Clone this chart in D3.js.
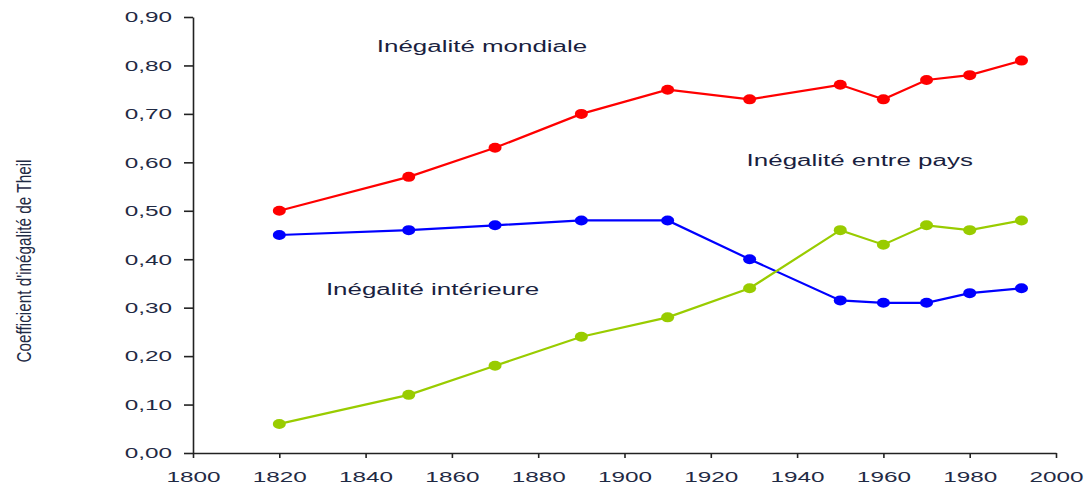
<!DOCTYPE html>
<html>
<head>
<meta charset="utf-8">
<script src="https://cdn.jsdelivr.net/npm/d3@7"></script>
<style>
  body { margin: 0; background: #fff; }
  text { font-family: "Liberation Sans", Arial, sans-serif; }
</style>
</head>
<body>
<svg id="chart"></svg>
<script>
// Data
const years = [1820, 1850, 1870, 1890, 1910, 1929, 1950, 1960, 1970, 1980, 1992];
const mondiale = [0.50, 0.57, 0.63, 0.70, 0.75, 0.73, 0.76, 0.73, 0.77, 0.78, 0.81];
const interieure = [0.45, 0.46, 0.47, 0.48, 0.48, 0.40, 0.315, 0.31, 0.31, 0.33, 0.34];
const entrePays = [0.06, 0.12, 0.18, 0.24, 0.28, 0.34, 0.46, 0.43, 0.47, 0.46, 0.48];
const xTicks = [1800, 1820, 1840, 1860, 1880, 1900, 1920, 1940, 1960, 1980, 2000];
const yTicks = [0, 0.1, 0.2, 0.3, 0.4, 0.5, 0.6, 0.7, 0.8, 0.9];

const series = [
  { name: 'Inégalité mondiale', values: mondiale, color: '#ff0000', label: [1842.6, 0.84] },
  { name: 'Inégalité intérieure', values: interieure, color: '#0000ff', label: [1830.8, 0.338] },
  { name: 'Inégalité entre pays', values: entrePays, color: '#99cc00', label: [1928.3, 0.605] }
];

const width = 1088;
const height = 489;
const stretch = 1.62; // the picture is widened horizontally

const svg = d3.select('#chart')
  .attr('width', width)
  .attr('height', height);

// widen a text horizontally, keeping it as text
function widen(sel, k) {
  sel.each(function () {
    const w = this.getComputedTextLength();
    d3.select(this).attr('textLength', w * k).attr('lengthAdjust', 'spacingAndGlyphs');
  });
}

// Scales
const xScale = d3.scaleLinear().domain([1800, 2000]).range([193, 1056]);
const yScale = d3.scaleLinear().domain([0, 0.9]).range([453, 17]);

// Axes
const xAxis = d3.axisBottom(xScale).tickValues(xTicks).tickFormat(d3.format('d')).tickSizeOuter(0).tickSizeInner(5);
const yAxis = d3.axisLeft(yScale).tickValues(yTicks).tickFormat(d => d3.format('.2f')(d).replace('.', ',')).tickSizeOuter(0).tickSizeInner(9);

const gx = svg.append('g')
  .attr('transform', `translate(0, ${yScale(0)})`)
  .call(xAxis);

const gy = svg.append('g')
  .attr('transform', `translate(${xScale(1800)}, 0)`)
  .call(yAxis);

[gx, gy].forEach(g => {
  g.select('.domain').attr('stroke', '#222').attr('stroke-width', 1.6);
  g.selectAll('.tick line').attr('stroke', '#222').attr('stroke-width', 1.6);
  g.selectAll('.tick text')
    .attr('fill', '#1f2a44')
    .style('font-size', '15px')
    .style('font-family', '"Liberation Sans", Arial, sans-serif');
});
gx.selectAll('.tick text').attr('y', 18);
gy.selectAll('.tick text').attr('x', -21);
widen(gx.selectAll('.tick text'), stretch);
widen(gy.selectAll('.tick text'), stretch);

// Y axis title
svg.append('text')
  .attr('transform', 'translate(31, 261) rotate(-90)')
  .attr('text-anchor', 'middle')
  .attr('fill', '#1f2a44')
  .attr('textLength', 203)
  .attr('lengthAdjust', 'spacingAndGlyphs')
  .style('font-family', '"Liberation Sans Narrow", "Arial Narrow", "Liberation Sans", sans-serif')
  .style('font-size', '21px')
  .text("Coefficient d'inégalité de Theil");

// Lines and dots
const line = d3.line()
  .x((d, i) => xScale(years[i]))
  .y(d => yScale(d));

series.forEach(s => {
  svg.append('path')
    .datum(s.values)
    .attr('fill', 'none')
    .attr('stroke', s.color)
    .attr('stroke-width', 2.2)
    .attr('d', line);

  svg.selectAll(null)
    .data(s.values)
    .enter()
    .append('ellipse')
    .attr('cx', (d, i) => xScale(years[i]))
    .attr('cy', d => yScale(d))
    .attr('rx', 6.5)
    .attr('ry', 5)
    .attr('fill', s.color);

  const t = svg.append('text')
    .attr('x', xScale(s.label[0]))
    .attr('y', yScale(s.label[1]))
    .attr('dy', '0.35em')
    .attr('fill', '#1a1f3f')
    .style('font-size', '16px')
    .text(s.name);
  widen(t, stretch);
});
</script>
</body>
</html>
